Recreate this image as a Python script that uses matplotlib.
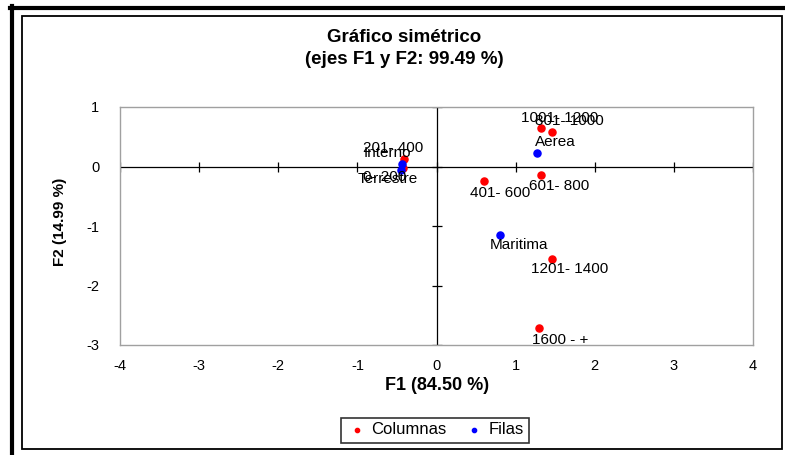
import matplotlib
matplotlib.use("Agg")
import matplotlib.pyplot as plt
from matplotlib.lines import Line2D
from matplotlib.patches import Rectangle

plt.rcParams["font.family"] = ["Liberation Sans", "DejaVu Sans"]
plt.rcParams["axes.unicode_minus"] = False

# Columnas (red)
col_labels = ["1001- 1200", "801- 1000", "201- 400", "0- 200", "601- 800",
              "401- 600", "1201- 1400", "1600 - +"]
col_f1 = [1.32, 1.46, -0.41, -0.42, 1.32, 0.60, 1.46, 1.30]
col_f2 = [0.65, 0.58, 0.13, -0.02, -0.14, -0.25, -1.55, -2.71]

# Filas (blue)
row_labels = ["Aerea", "Interno", "Terrestre", "Maritima"]
row_f1 = [1.27, -0.44, -0.45, 0.80]
row_f2 = [0.23, 0.04, -0.06, -1.15]

x_ticks = [-4, -3, -2, -1, 0, 1, 2, 3, 4]
y_ticks = [-3, -2, -1, 0, 1]

# label offsets in pixels (layout only)
col_off = [(19, 10), (17, 11), (-11, 11), (-19, -9), (18, -11),
           (16, -12), (18, -10), (21, -12)]
row_off = [(18, 11), (-14, 11), (-13, -9), (19, -10)]

W, H = 785, 455
fig = plt.figure(figsize=(W / 100, H / 100), dpi=100)

# outer frame: thick top/left, thin inner box
fig.add_artist(Line2D([10 / W, 1], [1 - 7.5 / H, 1 - 7.5 / H], color="black", lw=3, transform=fig.transFigure))
fig.add_artist(Line2D([11.5 / W, 11.5 / W], [0, 1 - 6 / H], color="black", lw=3, transform=fig.transFigure))
fig.add_artist(Rectangle((22 / W, 6 / H), 760 / W, 433 / H, fill=False, ec="black", lw=1.3,
                         transform=fig.transFigure))

ax = fig.add_axes([120 / W, 110 / H, 633 / W, 238 / H])
ax.set_xlim(-4, 4)
ax.set_ylim(-3, 1)
for s in ax.spines.values():
    s.set_color("#a0a0a0")
    s.set_linewidth(1)

ax.axhline(0, color="black", lw=0.9, zorder=1)
ax.axvline(0, color="black", lw=0.9, zorder=1)
ax.plot(x_ticks, [0] * len(x_ticks), ls="none", marker="|", ms=7, mew=0.9, color="black", zorder=1)
ax.plot([0] * len(y_ticks), y_ticks, ls="none", marker="_", ms=7, mew=0.9, color="black", zorder=1)

ax.set_xticks(x_ticks)
ax.set_yticks(y_ticks)
ax.tick_params(length=0, labelsize=10.5, pad=10)
ax.tick_params(axis="y", pad=15)

ax.scatter(col_f1, col_f2, s=26, color="#ff0000", zorder=3, label="Columnas")
ax.scatter(row_f1, row_f2, s=26, color="#0000ff", zorder=3, label="Filas")

for lab, x, y, off in zip(col_labels, col_f1, col_f2, col_off):
    ax.annotate(lab, (x, y), xytext=off, textcoords="offset pixels",
                ha="center", va="center", fontsize=11)
for lab, x, y, off in zip(row_labels, row_f1, row_f2, row_off):
    ax.annotate(lab, (x, y), xytext=off, textcoords="offset pixels",
                ha="center", va="center", fontsize=11)

fig.text(404 / W, 1 - 37 / H, "Gráfico simétrico", ha="center", va="center",
         fontsize=13.5, fontweight="bold")
fig.text(404 / W, 1 - 59 / H, "(ejes F1 y F2: 99.49 %)", ha="center", va="center",
         fontsize=13.5, fontweight="bold")
fig.text(437 / W, 1 - 385 / H, "F1 (84.50 %)", ha="center", va="center",
         fontsize=13, fontweight="bold")
fig.text(60 / W, 1 - 222 / H, "F2 (14.99 %)", ha="center", va="center",
         fontsize=11, fontweight="bold", rotation=90)

leg = fig.legend(loc="center", bbox_to_anchor=(435 / W, 1 - 430 / H), ncol=2,
                 fontsize=12, frameon=True, fancybox=False, edgecolor="black",
                 handletextpad=0.2, columnspacing=1.0, markerscale=0.6,
                 borderpad=0.3, handlelength=1.3)
leg.get_frame().set_linewidth(1.2)

fig.savefig("out.png", dpi=100)
